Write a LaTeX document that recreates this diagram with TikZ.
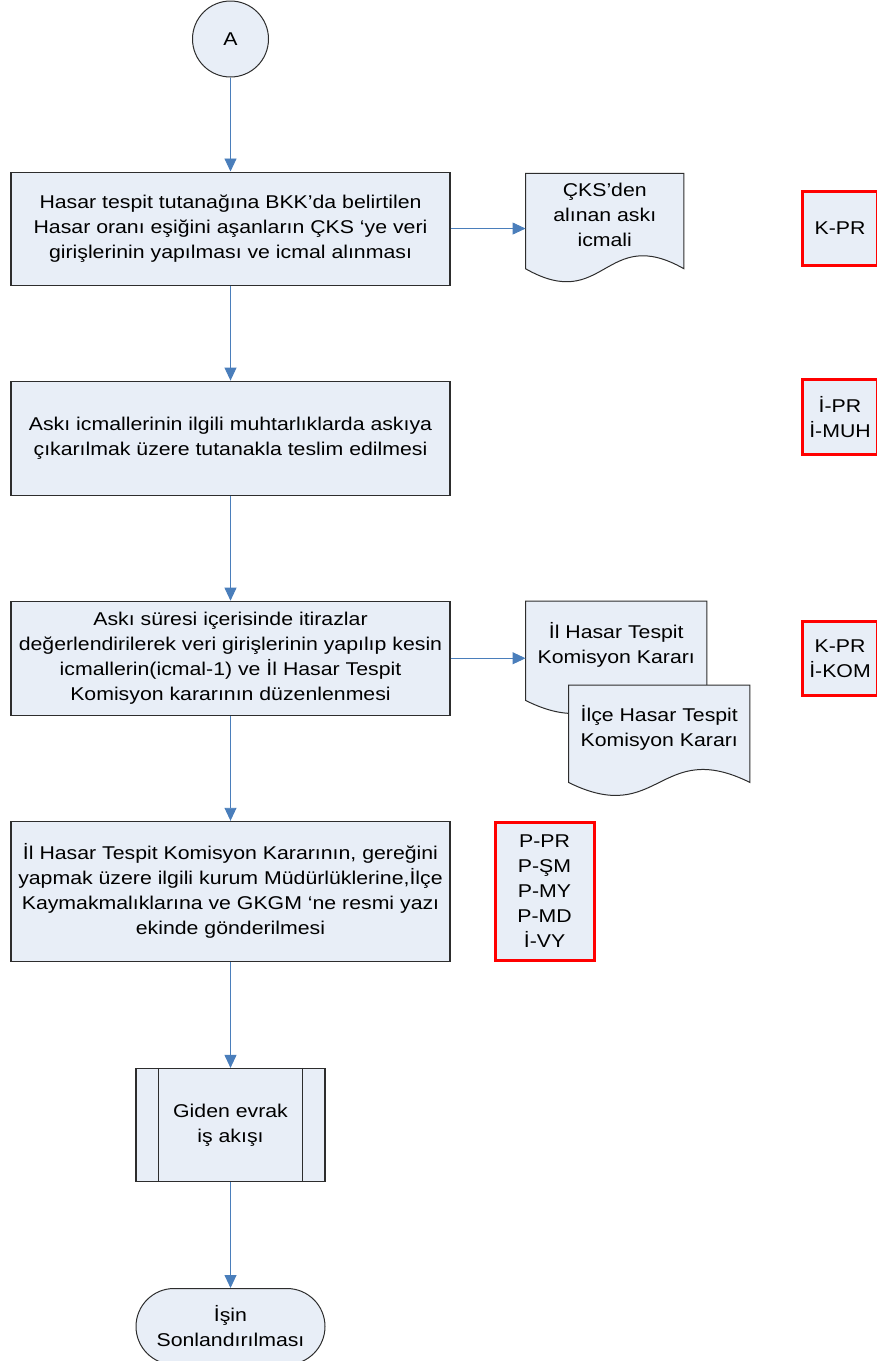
\documentclass[tikz,border=0pt]{standalone}
\usepackage{fontspec}
\setmainfont{Liberation Sans}[FakeStretch=1.15]
\usetikzlibrary{positioning,calc,arrows.meta,shapes.misc,backgrounds}
\definecolor{boxfill}{RGB}{232,238,247}
\definecolor{flowblue}{RGB}{74,126,187}
\definecolor{edgegray}{RGB}{45,45,45}
\tikzset{every node/.style={font=\fontsize{18.5}{25}\selectfont, align=center},
  stepbox/.style={rectangle, draw=edgegray, line width=1.1pt, fill=boxfill, minimum width=439pt, inner sep=0pt},
  connector/.style={circle, draw=edgegray, line width=1pt, fill=boxfill, minimum size=76pt, inner sep=0pt},
  docbody/.style={rectangle, inner sep=0pt},
  docline/.style={draw=edgegray, line width=1pt, fill=boxfill},
  rolebox/.style={rectangle, draw=red, line width=3pt, fill=boxfill, inner sep=0pt, minimum width=75pt},
  subproc/.style={stepbox, minimum width=189pt, minimum height=113pt},
  endbox/.style={rounded rectangle, draw=edgegray, line width=1pt, fill=boxfill, minimum width=189pt, minimum height=76pt, inner sep=0pt},
  flow/.style={color=flowblue, line width=0.9pt, -{Triangle[length=13pt,width=12pt]}}}
% document symbol: body node plus wavy lower edge, on the background layer
\newcommand{\docwave}[1]{%
  \begin{pgfonlayer}{background}
    \path[docline] (#1.north west) -- (#1.north east) -- ([yshift=-12pt]#1.south east)
      .. controls ($([yshift=-12pt]#1.south east)!0.5!([yshift=-12pt]#1.south west)+(0,45)$)
      and ($([yshift=-12pt]#1.south west)!0.5!([yshift=-12pt]#1.south east)+(0,-45)$)
      .. ([yshift=-12pt]#1.south west) -- cycle;
  \end{pgfonlayer}}

\begin{document}
\begin{tikzpicture}[x=1pt,y=1pt]
	\useasboundingbox (0,0) rectangle (877,-1361);
	\node[connector] (a) at (230.5,-39) {A};
	\node[stepbox, minimum height=113pt, below=94pt of a] (step1) {Hasar tespit tutanağına BKK’da belirtilen\\Hasar oranı eşiğini aşanların ÇKS ‘ye veri\\girişlerinin yapılması ve icmal alınması};
	\node[stepbox, minimum height=114pt, below=95pt of step1] (step2) {Askı icmallerinin ilgili muhtarlıklarda askıya\\çıkarılmak üzere tutanakla teslim edilmesi};
	\node[stepbox, minimum height=114pt, below=105pt of step2] (step3) {Askı süresi içerisinde itirazlar\\değerlendirilerek veri girişlerinin yapılıp kesin\\icmallerin(icmal-1) ve İl Hasar Tespit\\Komisyon kararının düzenlenmesi};
	\node[stepbox, minimum height=140pt, below=105pt of step3] (step4) {İl Hasar Tespit Komisyon Kararının, gereğini\\yapmak üzere ilgili kurum Müdürlüklerine,İlçe\\Kaymakmalıklarına ve GKGM ‘ne resmi yazı\\ekinde gönderilmesi};
	\node[subproc, below=106pt of step4] (giden) {Giden evrak\\iş akışı};
	\node[endbox, below=106pt of giden] (son) {İşin\\Sonlandırılması};
	\draw[edgegray, line width=1pt]
		([xshift=23pt]giden.north west) -- ([xshift=23pt]giden.south west)
		([xshift=-23pt]giden.north east) -- ([xshift=-23pt]giden.south east);

	% documents
	\node[docbody, minimum width=158pt, minimum height=83pt, right=75pt of step1, yshift=13.5pt] (doc1) {ÇKS’den\\alınan askı\\icmali};
	\docwave{doc1}
	\node[docbody, minimum width=181pt, minimum height=87pt, right=75pt of step3, yshift=13.5pt] (doc2) {İl Hasar Tespit\\Komisyon Kararı};
	\docwave{doc2}
	\node[docbody, minimum width=181pt, minimum height=85pt, below right=84pt and 43pt of doc2.north west] (doc3) {İlçe Hasar Tespit\\Komisyon Kararı};
	\docwave{doc3}

	% responsibles
	\node[rolebox, minimum height=74pt] (r1) at (840,-228.5) {K-PR};
	\node[rolebox, minimum height=75pt] (r2) at (840,-417) {İ-PR\\İ-MUH};
	\node[rolebox, minimum height=74pt] (r3) at (840,-658.5) {K-PR\\İ-KOM};
	\node[rolebox, minimum width=99pt, minimum height=138pt, right=43pt of step4] (r4) {P-PR\\P-ŞM\\P-MY\\P-MD\\İ-VY};

	\path
		(a) edge[flow] (step1)
		(step1) edge[flow] (step2)
		(step2) edge[flow] (step3)
		(step3) edge[flow] (step4)
		(step4) edge[flow] (giden)
		(giden) edge[flow] (son)
		(step1.east) edge[flow] (step1.east -| doc1.west)
		(step3.east) edge[flow] (step3.east -| doc2.west);
\end{tikzpicture}
\end{document}
